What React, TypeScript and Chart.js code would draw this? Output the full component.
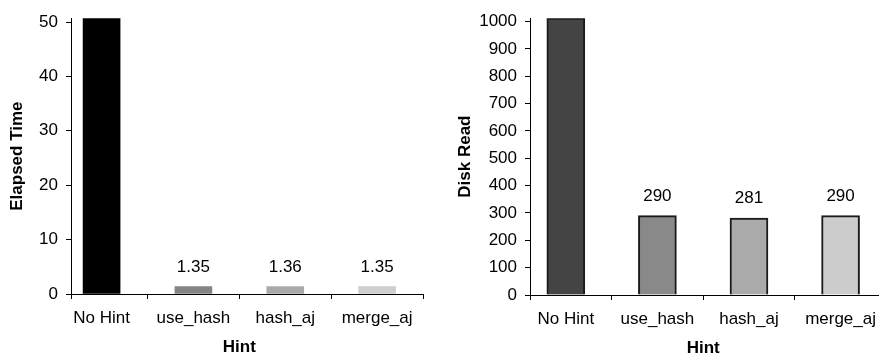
import React, { useEffect, useRef } from 'react';
import { Chart, registerables } from 'chart.js';

Chart.register(...registerables);

// Query hints compared in both panels
const hints = ['No Hint', 'use_hash', 'hash_aj', 'merge_aj'];

// Elapsed time per hint (the No Hint bar runs past the top of the axis)
const elapsedTime = [50.7, 1.35, 1.36, 1.35];
// Disk reads per hint
const diskRead = [1012, 290, 281, 290];

const elapsedTicks = [0, 10, 20, 30, 40, 50];
const diskReadTicks = [0, 100, 200, 300, 400, 500, 600, 700, 800, 900, 1000];

const elapsedColors = ['#000000', '#858585', '#a9a9a9', '#cecece'];
const diskReadColors = ['#444444', '#898989', '#aaaaaa', '#cccccc'];

const FONT = '"Liberation Sans", Arial, Helvetica, sans-serif';

type PanelProps = {
  values: number[];
  colors: string[];
  yTicks: number[];
  yTitle: string;
  xMin: number;
  xMax: number;
  axisWidth: number;
  axisHeight: number;
  rightPad: number;
  titlePad: number;
  outlined: boolean;
  barWidth: number;
  width: number;
};

// Draws the value above each bar that stays inside the plot, and the centred "Hint" axis title.
const annotations = {
  id: 'annotations',
  afterDatasetsDraw(chart: any) {
    const { ctx, chartArea } = chart;
    const yScale = chart.scales.y;
    const xScale = chart.scales.x;
    ctx.save();
    ctx.fillStyle = '#000';
    ctx.textAlign = 'center';
    ctx.font = `17px ${FONT}`;
    ctx.textBaseline = 'alphabetic';
    chart.data.datasets.forEach((ds: any, di: number) => {
      const meta = chart.getDatasetMeta(di);
      meta.data.forEach((el: any, i: number) => {
        const v = ds.data[i].y;
        if (v >= yScale.max) return;
        ctx.fillText(String(v), el.x, el.y - 15);
      });
    });
    const cx = (xScale.getPixelForValue(0) + xScale.getPixelForValue(hints.length - 1)) / 2;
    ctx.font = `bold 17px ${FONT}`;
    ctx.textBaseline = 'middle';
    ctx.fillText('Hint', cx, chartArea.bottom + 53);
    ctx.restore();
  },
};

function Panel(p: PanelProps) {
  const ref = useRef<HTMLCanvasElement>(null);

  useEffect(() => {
    if (!ref.current) return;
    const yMax = Math.max(...p.values);
    const chart = new Chart(ref.current, {
      type: 'bar',
      data: {
        datasets: [
          {
            data: p.values.map((v, i) => ({ x: i, y: v })),
            backgroundColor: p.colors,
            borderColor: '#1a1a1a',
            borderWidth: p.outlined ? 2 : 0,
            barThickness: p.barWidth,
          },
        ],
      },
      options: {
        responsive: false,
        animation: false,
        events: [],
        layout: { autoPadding: false, padding: { top: 13, left: 0, right: p.rightPad, bottom: 0 } },
        plugins: { legend: { display: false }, tooltip: { enabled: false } },
        scales: {
          x: {
            type: 'linear',
            min: p.xMin,
            max: p.xMax,
            offset: false,
            afterBuildTicks: (scale: any) => {
              const vals: number[] = [p.xMin];
              hints.forEach((_, i) => {
                vals.push(i);
                if (i + 0.5 <= p.xMax + 1e-9) vals.push(i + 0.5);
              });
              scale.ticks = vals.map((value) => ({ value }));
            },
            afterFit: (scale: any) => {
              scale.height = p.axisHeight;
            },
            grid: {
              offset: false,
              drawOnChartArea: false,
              drawTicks: true,
              tickLength: 5,
              color: (ctx: any) =>
                ctx.tick && Number.isInteger(ctx.tick.value) ? 'rgba(0,0,0,0)' : '#000',
            },
            border: { display: true, color: '#000', width: 1 },
            ticks: {
              autoSkip: false,
              maxRotation: 0,
              minRotation: 0,
              padding: 9,
              color: '#000',
              font: { family: FONT, size: 17 },
              callback: (value: any) => (Number.isInteger(value) ? hints[value] : ''),
            },
          },
          y: {
            type: 'linear',
            min: 0,
            max: yMax,
            afterBuildTicks: (scale: any) => {
              scale.ticks = p.yTicks.map((value) => ({ value }));
            },
            afterFit: (scale: any) => {
              scale.width = p.axisWidth;
            },
            grid: { drawOnChartArea: false, drawTicks: true, tickLength: 5, color: '#000' },
            border: { display: true, color: '#000', width: 1 },
            ticks: {
              padding: 8,
              color: '#000',
              font: { family: FONT, size: 17 },
              callback: (value: any) => String(value),
            },
            title: {
              display: true,
              text: p.yTitle,
              color: '#000',
              font: { family: FONT, size: 17, weight: 'bold' },
              padding: { top: p.titlePad, bottom: 0 },
            },
          },
        },
      },
      plugins: [annotations],
    } as any);
    return () => chart.destroy();
  }, []);

  return <canvas ref={ref} width={p.width} height={358} style={{ display: 'block' }} />;
}

export default function App() {
  return (
    <div
      style={{
        position: 'fixed',
        left: 0,
        top: 0,
        width: 885,
        height: 358,
        background: '#fff',
        display: 'flex',
      }}
    >
      <Panel
        values={elapsedTime}
        colors={elapsedColors}
        yTicks={elapsedTicks}
        yTitle="Elapsed Time"
        xMin={-0.333}
        xMax={3.5}
        axisWidth={71}
        axisHeight={64}
        rightPad={19}
        titlePad={7}
        outlined={false}
        barWidth={37}
        width={442}
      />
      <Panel
        values={diskRead}
        colors={diskReadColors}
        yTicks={diskReadTicks}
        yTitle="Disk Read"
        xMin={-0.391}
        xMax={3.4125}
        axisWidth={88}
        axisHeight={63}
        rightPad={0}
        titlePad={13}
        outlined={true}
        barWidth={38}
        width={443}
      />
    </div>
  );
}
